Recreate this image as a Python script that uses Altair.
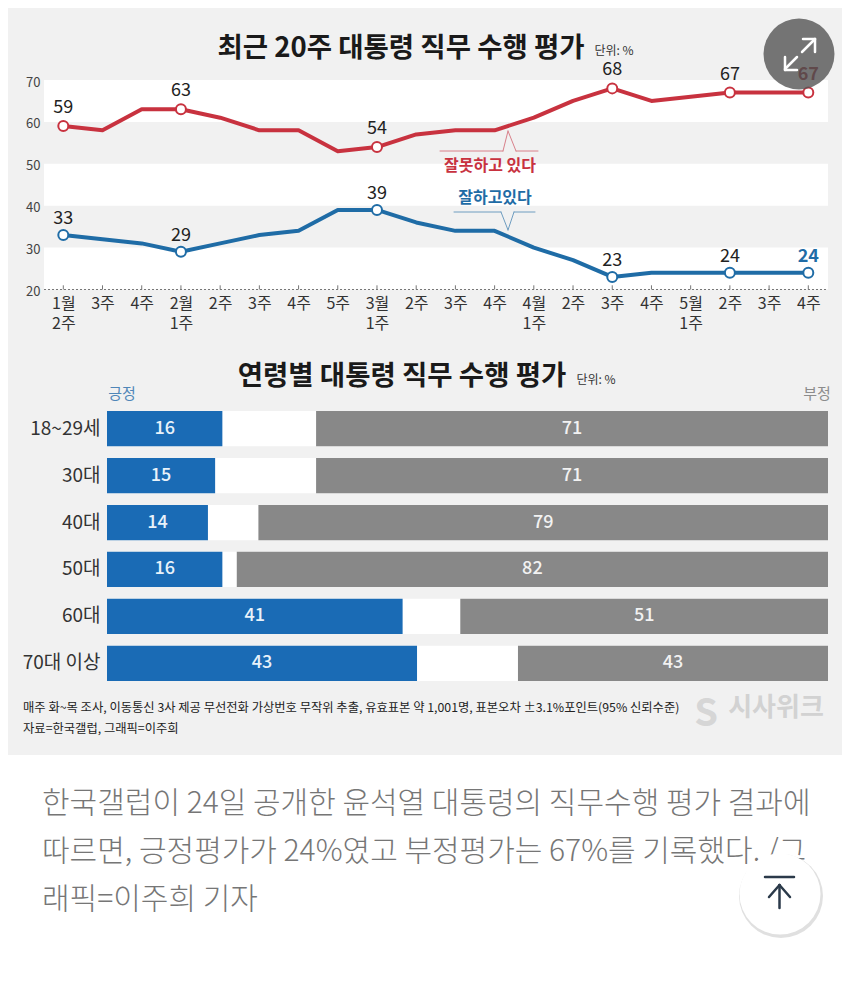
import altair as alt
import pandas as pd

# ---- values ----
weeks = ["1월 2주", "1월 3주", "1월 4주", "2월 1주", "2월 2주", "2월 3주", "2월 4주", "2월 5주",
         "3월 1주", "3월 2주", "3월 3주", "3월 4주", "4월 1주", "4월 2주", "4월 3주", "4월 4주",
         "5월 1주", "5월 2주", "5월 3주", "5월 4주"]
week_labels = ["1월\n2주", "3주", "4주", "2월\n1주", "2주", "3주", "4주", "5주",
               "3월\n1주", "2주", "3주", "4주", "4월\n1주", "2주", "3주", "4주",
               "5월\n1주", "2주", "3주", "4주"]
negative_series = [59, 58, 63, 63, 61, 58, 58, 53, 54, 57, 58, 58, 61, 65, 68, 65, 66, 67, 67, 67]
positive_series = [33, 32, 31, 29, 31, 33, 34, 39, 39, 36, 34, 34, 30, 27, 23, 24, 24, 24, 24, 24]
labelled_weeks = [0, 3, 8, 14, 17, 19]
y_ticks = [20, 30, 40, 50, 60, 70]
band_low = [20, 40, 60]
band_high = [30, 50, 70]

ages = ["18~29세", "30대", "40대", "50대", "60대", "70대 이상"]
age_positive = [16, 15, 14, 16, 41, 43]
age_negative = [71, 71, 79, 82, 51, 43]

title_top = "최근 20주 대통령 직무 수행 평가"
title_mid = "연령별 대통령 직무 수행 평가"
unit_text = "단위: %"
note_lines = ["매주 화~목 조사, 이동통신 3사 제공 무선전화 가상번호 무작위 추출, 유효표본 약 1,001명, 표본오차 ±3.1%포인트(95% 신뢰수준)",
              "자료=한국갤럽, 그래픽=이주희"]
body_lines = ["한국갤럽이 24일 공개한 윤석열 대통령의 직무수행 평가 결과에",
              "따르면, 긍정평가가 24%였고 부정평가는 67%를 기록했다. /그",
              "래픽=이주희 기자"]

# ---- styling ----
FONT = "Noto Sans CJK KR"
RED, BLUE, BAR_BLUE, BAR_GREY = "#c8323f", "#1f6ca6", "#1a6bb5", "#888888"
PANEL = "#f1f1f1"
M = 8  # page margin: annotation positions below are given in page pixels

df_weeks = pd.DataFrame({"week": weeks, "neg": negative_series, "pos": positive_series})
df_neg_lab = df_weeks.iloc[labelled_weeks].copy()
df_neg_lab["bold"] = [i == 19 for i in labelled_weeks]
df_bands = pd.DataFrame({"low": band_low, "high": band_high})
df_bars = pd.DataFrame({"age": ages, "pos": age_positive, "neg": age_negative})
df_bars["neg_start"] = 100 - df_bars["neg"]
df_bars["pos_mid"] = df_bars["pos"] / 2
df_bars["neg_mid"] = 100 - df_bars["neg"] / 2
df_bars["zero"] = 0
df_bars["full"] = 100

blank = alt.Data(values=[{}])


def txt(s, x, y, size, color="#222222", weight="normal", align="center", opacity=1.0):
    return alt.Chart(blank).mark_text(font=FONT, fontSize=size, color=color, fontWeight=weight,
                                      align=align, baseline="middle", opacity=opacity).encode(
        x=alt.value(x - M), y=alt.value(y - M), text=alt.value(s))


def seg(x1, y1, x2, y2, color, width=1.0):
    return alt.Chart(blank).mark_rule(color=color, strokeWidth=width, strokeCap="round").encode(
        x=alt.value(x1 - M), x2=alt.value(x2 - M), y=alt.value(y1 - M), y2=alt.value(y2 - M))


def box(x1, y1, x2, y2, color):
    return alt.Chart(blank).mark_rect(color=color).encode(
        x=alt.value(x1 - M), x2=alt.value(x2 - M), y=alt.value(y1 - M), y2=alt.value(y2 - M))


def dot(x, y, diameter, color, opacity=1.0):
    return alt.Chart(blank).mark_point(filled=True, color=color, size=diameter ** 2, opacity=opacity).encode(
        x=alt.value(x - M), y=alt.value(y - M))


# ---- line chart ----
label_map = dict(zip(weeks, week_labels))
label_expr = "split(" + "{" + ",".join(f"'{k}':'{v}'".replace("\n", "|") for k, v in label_map.items()) + "}[datum.label], '|')"

x_week = alt.X("week:N", scale=alt.Scale(type="point", domain=weeks, range=[55.3, 800.3], padding=0),
               axis=alt.Axis(orient="bottom", offset=-695.5, title=None, domain=False, ticks=False, grid=False,
                             zindex=1, labelAngle=0, labelFont=FONT, labelFontSize=16, labelColor="#333333",
                             labelPadding=6, labelLineHeight=20, labelBaseline="top", labelExpr=label_expr))
y_scale = alt.Scale(domain=[20, 70], range=[281.5, 72], nice=False, zero=False)
y_axis = alt.Axis(orient="left", offset=-36, title=None, domain=False, ticks=False, grid=False, values=y_ticks,
                  zindex=1, labelFont=FONT, labelFontSize=13, labelColor="#444444", labelPadding=4, labelOffset=2)

bands = alt.Chart(df_bands).mark_rect(color="white").encode(
    x=alt.value(44 - M), x2=alt.value(828 - M),
    y=alt.Y("low:Q", scale=y_scale, axis=y_axis), y2="high:Q")
ticks = alt.Chart(df_weeks).mark_rule(color="#777777", strokeWidth=1).encode(
    x=x_week, y=alt.datum(20, scale=y_scale), y2=alt.datum(21))
baseline = alt.Chart(blank).mark_rule(color="#777777", strokeWidth=1, strokeDash=[2, 2]).encode(
    x=alt.value(44 - M), x2=alt.value(828 - M), y=alt.datum(20, scale=y_scale))


def series(field, color, dy, bold_color):
    y = alt.Y(f"{field}:Q", scale=y_scale)
    line = alt.Chart(df_weeks).mark_line(color=color, strokeWidth=4, strokeJoin="round").encode(x=x_week, y=y)
    pts = alt.Chart(df_neg_lab).mark_point(filled=True, fill="white", stroke=color, strokeWidth=2, size=100,
                                           opacity=1).encode(x=x_week, y=y)
    lab = alt.Chart(df_neg_lab[~df_neg_lab["bold"]]).mark_text(font=FONT, fontSize=18, color="#222222", dy=dy).encode(
        x=x_week, y=y, text=alt.Text(f"{field}:Q"))
    lab2 = alt.Chart(df_neg_lab[df_neg_lab["bold"]]).mark_text(font=FONT, fontSize=18, color=bold_color,
                                                               fontWeight="bold", dy=dy).encode(
        x=x_week, y=y, text=alt.Text(f"{field}:Q"))
    return [line, pts, lab, lab2]


line_group = alt.layer(bands, baseline, ticks, *series("neg", RED, -18, "#8e1a26"), *series("pos", BLUE, -16, BLUE))

# ---- bars ----
x_pct = alt.X("zero:Q", scale=alt.Scale(domain=[0, 100], range=[99, 820], nice=False, zero=False), axis=None)
y_age = alt.Y("age:N", sort=None, scale=alt.Scale(domain=ages, range=[403, 673], paddingInner=0.25, paddingOuter=0),
              axis=alt.Axis(orient="left", offset=-99, title=None, domain=False, ticks=False, grid=False, zindex=1,
                            labelFont=FONT, labelFontSize=19, labelColor="#333333", labelPadding=7))
x_plain = lambda f: alt.X(f, scale=alt.Scale(domain=[0, 100], range=[99, 820], nice=False, zero=False), axis=None)

bar_bg = alt.Chart(df_bars).mark_bar(color="white").encode(x=x_pct, x2="full:Q", y=y_age)
bar_pos = alt.Chart(df_bars).mark_bar(color=BAR_BLUE).encode(x=x_pct, x2="pos:Q", y=y_age)
bar_neg = alt.Chart(df_bars).mark_bar(color=BAR_GREY).encode(x=x_plain("neg_start:Q"), x2="full:Q", y=y_age)
txt_pos = alt.Chart(df_bars).mark_text(font=FONT, fontSize=18, color="#e8f2fa", fontWeight=500).encode(
    x=x_plain("pos_mid:Q"), y=y_age, text="pos:Q")
txt_neg = alt.Chart(df_bars).mark_text(font=FONT, fontSize=18, color="#f2f2f2", fontWeight=500).encode(
    x=x_plain("neg_mid:Q"), y=y_age, text="neg:Q")
bar_group = alt.layer(bar_bg, bar_pos, bar_neg, txt_pos, txt_neg)

# ---- annotations ----
before = [box(0, 0, 850, 985, "white"), box(0, 0, 850, 755, PANEL)]

callouts = [
    seg(440, 151, 503, 151, "#d8808a"), seg(503, 151, 508, 131, "#d8808a"),
    seg(508, 131, 516, 151, "#d8808a"), seg(516, 151, 538, 151, "#d8808a"),
    seg(454, 212, 501, 212, "#6f9dc0"), seg(501, 212, 508, 230, "#6f9dc0"),
    seg(508, 230, 514, 212, "#6f9dc0"), seg(514, 212, 535, 212, "#6f9dc0"),
]

after = [
    txt(title_top, 401, 49, 27.5, "#1a1a1a", "bold"),
    txt(unit_text, 614, 51, 12, "#333333"),
    txt("잘못하고 있다", 490, 166, 16, RED, "bold"),
    txt("잘하고있다", 495, 198, 16, BLUE, "bold"),
    *callouts,
    txt(title_mid, 402, 377, 27.5, "#1a1a1a", "bold"),
    txt(unit_text, 596, 380, 12, "#333333"),
    txt("긍정", 122, 394, 15, "#4f86b8"),
    txt("부정", 817, 394, 15, "#8c8c8c"),
    txt(note_lines[0], 23, 708, 12.3, "#222222", align="left"),
    txt(note_lines[1], 23, 729, 12.3, "#222222", align="left"),
    txt("S", 706, 715, 38, "#d6d6d6", "bold"),
    txt("시사위크", 776, 708, 26, "#d2d2d2", "bold"),
    txt(body_lines[0], 42, 804, 30, "#767676", 300, align="left"),
    txt(body_lines[1], 42, 852, 30, "#767676", 300, align="left"),
    txt(body_lines[2], 42, 900, 30, "#767676", 300, align="left"),
    # expand button
    dot(799, 54, 71, "#555555", 0.8),
    seg(802, 52, 815, 39, "white", 2.5), seg(803, 39, 815, 39, "white", 2.5), seg(815, 39, 815, 52, "white", 2.5),
    seg(785, 69, 797, 57, "white", 2.5), seg(785, 57, 785, 70, "white", 2.5), seg(785, 70, 797, 70, "white", 2.5),
    # back-to-top button
    dot(781, 896, 84, "#000000", 0.12),
    dot(780, 894, 81, "white"),
    seg(765, 877, 794, 877, "#2b3a4a", 2.5),
    seg(779.5, 885, 779.5, 908, "#2b3a4a", 2.5),
    seg(779.5, 885, 769, 897, "#2b3a4a", 2.5),
    seg(779.5, 885, 790, 897, "#2b3a4a", 2.5),
]

chart = alt.layer(*before, line_group, bar_group, *after).resolve_scale(
    x="independent", y="independent"
).properties(
    width=834, height=977, padding=0, background="white",
    autosize=alt.AutoSizeParams(type="none"),
).configure_view(stroke=None)

chart.save("out.html", embed_options={"renderer": "svg", "actions": False})
